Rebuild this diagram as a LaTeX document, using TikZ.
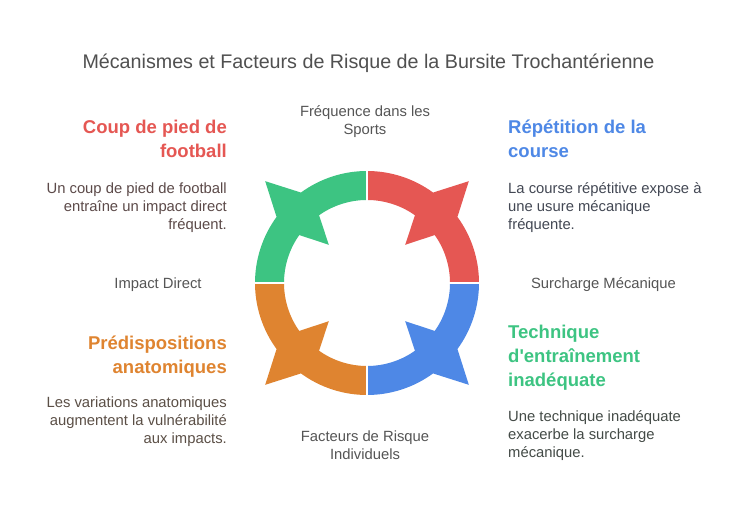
\documentclass[tikz,border=0pt]{standalone}
\usepackage{fontspec}
\setmainfont{Liberation Sans}
\definecolor{cred}{HTML}{E55753}
\definecolor{cblue}{HTML}{4E88E6}
\definecolor{cgreen}{HTML}{3DC482}
\definecolor{corange}{HTML}{DF8430}
\definecolor{titlegray}{HTML}{505050}
\definecolor{lblgray}{HTML}{555555}
\definecolor{bred}{HTML}{5C4A49}
\definecolor{bblue}{HTML}{434854}
\definecolor{bgreen}{HTML}{444B47}
\definecolor{borange}{HTML}{5B4F46}
\begin{document}
\begin{tikzpicture}[x=1pt,y=1pt,
  titletext/.style={font=\fontsize{19.7}{24}\selectfont, text=titlegray, inner sep=0, anchor=base},
  lbl/.style={font=\fontsize{14.8}{18}\selectfont, text=lblgray, inner sep=0, align=center},
  head/.style={font=\fontsize{18.5}{24}\selectfont\bfseries, inner sep=0},
  body/.style={font=\fontsize{14.8}{18}\selectfont, inner sep=0},
  sep/.style={white, line width=2}
]
\fill[white] (0,0) rectangle (735,518);
\useasboundingbox (0,0) rectangle (735,518);
\coordinate (C) at (367,235);
\foreach \a/\c in {0/cred,90/cgreen,180/corange,270/cblue}{
  \fill[\c, shift={(C)}] (\a:112) arc[start angle=\a, end angle=\a+36.15, radius=112]
    -- (\a+45:144) -- (\a+53.85:112)
    arc[start angle=\a+53.85, end angle=\a+90, radius=112]
    -- (\a+90:83) arc[start angle=\a+90, end angle=\a+54.7, radius=83]
    -- (\a+45:54) -- (\a+35.3:83)
    arc[start angle=\a+35.3, end angle=\a, radius=83] -- cycle;
}
\foreach \a in {0,90,180,270}{
  \draw[sep] (C) -- ++(\a:150);
}
\node[titletext] (title) at (368.5,449) {Mécanismes et Facteurs de Risque de la Bursite Trochantérienne};

\node[lbl, anchor=north] (lt) at (365,414.6) {\strut Fréquence dans les\\Sports};
\node[lbl, anchor=north] (lb) at (365,89.6) {\strut Facteurs de Risque\\Individuels};
\node[lbl, anchor=base] (ll) at (158,229) {Impact Direct};
\node[lbl, anchor=base] (lr) at (603.5,229) {Surcharge Mécanique};

\node[head, text=cred, align=right, anchor=north east] (h1) at (227,401.8) {\strut Coup de pied de\\football};
\node[body, text=bred, align=right, anchor=north east] (b1) at (227,337.6) {\strut Un coup de pied de football\\entraîne un impact direct\\fréquent.};

\node[head, text=cblue, align=left, anchor=north west] (h2) at (508,401.8) {\strut Répétition de la\\course};
\node[body, text=bblue, align=left, anchor=north west] (b2) at (508,337.6) {\strut La course répétitive expose à\\une usure mécanique\\fréquente.};

\node[head, text=cgreen, align=left, anchor=north west] (h3) at (508,196.8) {\strut Technique\\d\textquotesingle entraînement\\inadéquate};
\node[body, text=bgreen, align=left, anchor=north west] (b3) at (508,109.6) {\strut Une technique inadéquate\\exacerbe la surcharge\\mécanique.};

\node[head, text=corange, align=right, anchor=north east] (h4) at (227,185.8) {\strut Prédispositions\\anatomiques};
\node[body, text=borange, align=right, anchor=north east] (b4) at (227,123.6) {\strut Les variations anatomiques\\augmentent la vulnérabilité\\aux impacts.};
\end{tikzpicture}
\end{document}
